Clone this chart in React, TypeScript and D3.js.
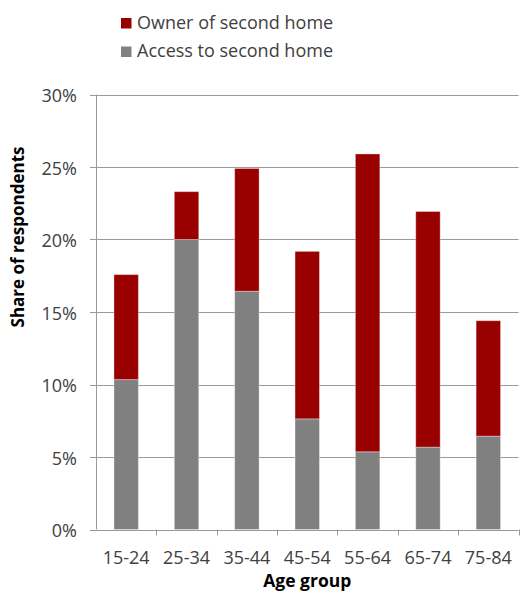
import React from "react";
import * as d3 from "d3";

const categories = ["15-24", "25-34", "35-44", "45-54", "55-64", "65-74", "75-84"];
const accessValues = [0.1034, 0.2, 0.1643, 0.0763, 0.0536, 0.0568, 0.0644];
const ownerValues = [0.0724, 0.033, 0.0847, 0.1155, 0.2054, 0.1625, 0.0796];
const yTicks = [0, 0.05, 0.1, 0.15, 0.2, 0.25, 0.3];
const legendLabels = ["Owner of second home", "Access to second home"];

const W = 520;
const H = 598;
const FONT = "'Open Sans', 'Noto Sans', sans-serif";
const RED = "#990000";
const GRAY = "#808080";
const AXIS = "#9a9a9a";

export default function App() {
  const left = 96;
  const right = 518.5;
  const top = 94.5;
  const bottom = 529.5;
  const x = d3.scaleBand<string>().domain(categories).range([left, right]).padding(0);
  const y = d3.scaleLinear().domain([0, 0.3]).range([bottom, top]);
  const barW = x.bandwidth() * 0.405;
  const fmt = d3.format(".0%");

  const stack = categories.map((c, i) => ({
    c,
    access: accessValues[i],
    owner: ownerValues[i],
  }));

  return (
    <svg
      width={W}
      height={H}
      style={{ position: "absolute", left: 0, top: 0, background: "#fff" }}
      fontFamily={FONT}
    >
      {/* gridlines */}
      {yTicks.filter((t) => t > 0).map((t) => (
        <line
          key={"g" + t}
          x1={left}
          x2={right}
          y1={Math.round(y(t)) + 0.5}
          y2={Math.round(y(t)) + 0.5}
          stroke={AXIS}
          strokeWidth={1}
        />
      ))}
      {/* bars */}
      {stack.map((d) => {
        const cx = (x(d.c) as number) + x.bandwidth() / 2;
        const x0 = cx - barW / 2;
        return (
          <g key={d.c}>
            <rect
              x={x0}
              y={y(d.access)}
              width={barW}
              height={y(0) - y(d.access)}
              fill={GRAY}
              stroke="rgba(255,255,255,0.35)"
              strokeWidth={1}
            />
            <rect
              x={x0}
              y={y(d.access + d.owner)}
              width={barW}
              height={y(d.access) - y(d.access + d.owner)}
              fill={RED}
              stroke="rgba(255,255,255,0.35)"
              strokeWidth={1}
            />
          </g>
        );
      })}
      {/* y axis */}
      <line x1={left + 0.5} x2={left + 0.5} y1={top} y2={bottom} stroke={AXIS} />
      {yTicks.map((t) => (
        <g key={"yt" + t}>
          <line
            x1={left - 6}
            x2={left}
            y1={Math.round(y(t)) + 0.5}
            y2={Math.round(y(t)) + 0.5}
            stroke={AXIS}
          />
          <text
            x={77}
            y={y(t) + 7.5}
            textAnchor="end"
            fontSize={18}
            fill="#404040"
          >
            {fmt(t)}
          </text>
        </g>
      ))}
      {/* x axis */}
      <line x1={left} x2={right} y1={Math.round(bottom) + 0.5} y2={Math.round(bottom) + 0.5} stroke={AXIS} />
      {categories.map((c, i) => (
        <line
          key={"xt" + c}
          x1={Math.round((x(c) as number) + x.bandwidth()) + 0.5}
          x2={Math.round((x(c) as number) + x.bandwidth()) + 0.5}
          y1={bottom}
          y2={bottom + 6}
          stroke={AXIS}
        />
      ))}
      {categories.map((c) => (
        <text
          key={"xl" + c}
          x={(x(c) as number) + x.bandwidth() / 2}
          y={563.5}
          textAnchor="middle"
          fontSize={18}
          fill="#404040"
        >
          {c}
        </text>
      ))}
      {/* axis titles */}
      <text
        x={(left + right) / 2}
        y={587}
        textAnchor="middle"
        fontSize={17.5}
        fontWeight="bold"
        fill="#000"
      >
        Age group
      </text>
      <text
        transform={`translate(23.5, 237) rotate(-90)`}
        textAnchor="middle"
        fontSize={17}
        fontWeight="bold"
        fill="#000"
      >
        Share of respondents
      </text>
      {/* legend */}
      {legendLabels.map((l, i) => (
        <g key={l}>
          <rect x={121} y={18 + i * 28.5} width={10.5} height={10.5} fill={i === 0 ? RED : GRAY} />
          <text x={137} y={28.5 + i * 28.5} fontSize={18} fill="#404040">
            {l}
          </text>
        </g>
      ))}
    </svg>
  );
}
